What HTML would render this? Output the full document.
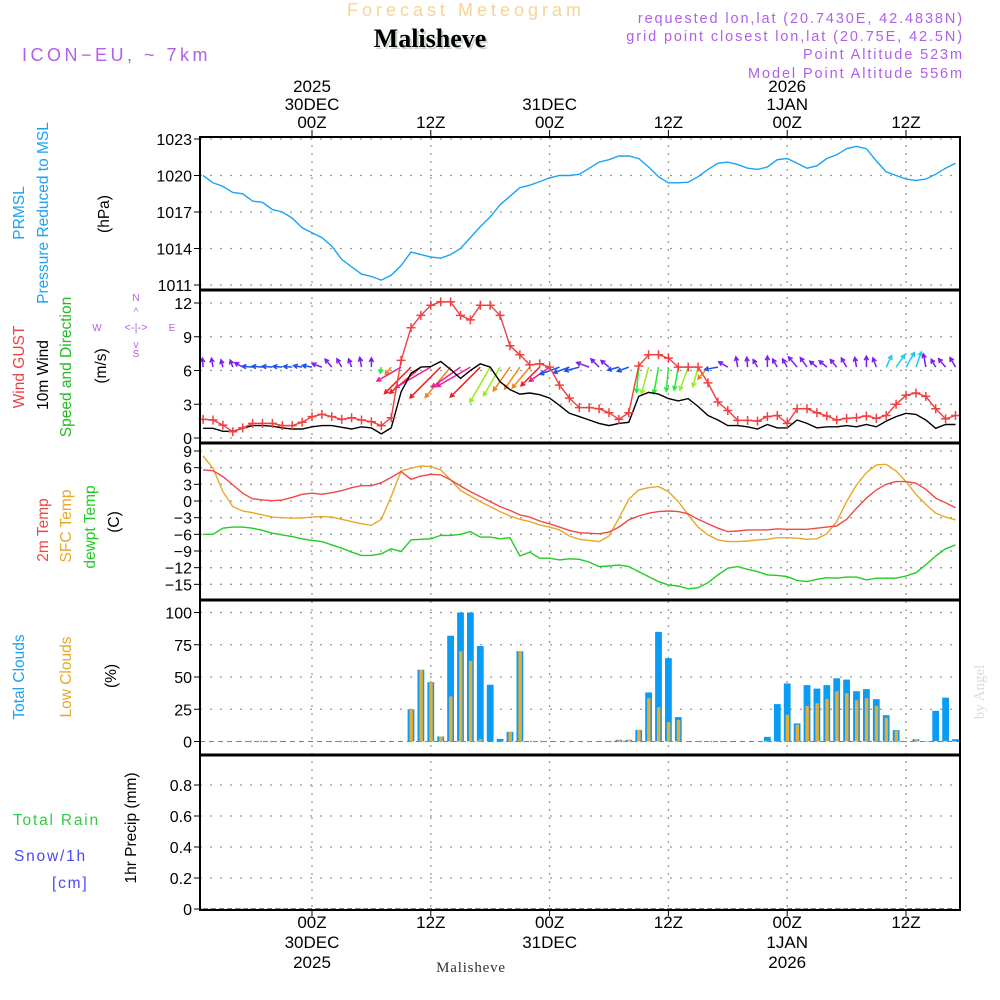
<!DOCTYPE html>
<html><head><meta charset="utf-8"><style>
html,body{margin:0;padding:0;background:#fff;width:1000px;height:1000px;overflow:hidden}
svg{display:block}
.sans{font-family:"Liberation Sans",sans-serif}
.serif{font-family:"Liberation Serif",serif}
</style></head><body>
<svg id="c" class="sans" width="1000" height="1000" xmlns="http://www.w3.org/2000/svg"></svg>
<script>
// ---- data (hourly, hours relative to 30DEC 00Z) ----
const hourStart = -11;
const pressure = [1020.0,1019.4,1019.1,1018.6,1018.5,1017.9,1017.8,1017.2,1017.0,1016.5,1015.7,1015.3,1014.9,1014.2,1013.1,1012.5,1011.9,1011.7,1011.4,1011.8,1012.6,1013.7,1013.5,1013.3,1013.2,1013.5,1014.0,1014.9,1015.8,1016.6,1017.6,1018.3,1019.0,1019.2,1019.5,1019.8,1020.0,1020.0,1020.1,1020.6,1021.1,1021.3,1021.6,1021.6,1021.4,1020.7,1019.9,1019.4,1019.4,1019.45,1019.9,1020.5,1021.0,1021.1,1020.9,1020.6,1020.5,1020.7,1021.3,1021.4,1021.0,1020.6,1020.8,1021.4,1021.7,1022.2,1022.4,1022.2,1021.2,1020.3,1020.0,1019.7,1019.6,1019.7,1020.1,1020.6,1021.0];
const gust = [1.66,1.6,1.15,0.56,0.9,1.3,1.3,1.3,1.1,1.1,1.4,1.9,2.1,1.9,1.66,1.8,1.6,1.45,1.1,1.8,6.9,9.8,10.9,11.8,12.1,12.1,10.9,10.5,11.8,11.8,10.9,8.2,7.4,6.5,6.6,6.3,4.7,3.55,2.7,2.7,2.6,2.25,1.66,2.25,6.4,7.4,7.4,7.1,6.3,6.3,6.3,4.9,3.2,2.45,1.57,1.57,1.5,1.9,2.0,1.3,2.6,2.6,2.25,1.96,1.6,1.75,1.8,1.96,1.75,2.0,3.0,3.8,4.0,3.7,2.6,1.7,2.0];
const wind10 = [0.86,0.86,0.6,0.6,0.86,1.1,1.1,1.05,0.9,0.8,0.8,1.0,1.1,1.1,0.95,0.8,1.0,0.9,0.36,0.9,4.1,5.75,6.3,6.35,6.8,6.1,5.3,6.0,6.6,6.3,5.0,4.3,3.9,4.0,3.85,3.55,2.9,2.2,1.9,1.6,1.3,1.1,1.3,1.4,3.7,4.05,3.9,3.5,3.3,3.5,2.8,2.0,1.6,1.1,1.1,1.0,0.8,1.2,0.9,0.9,1.6,1.3,0.9,1.0,1.0,1.1,1.0,1.2,1.0,1.5,1.9,2.2,2.1,1.6,0.86,1.2,1.2];
const windDir = [175,170,165,160,120,95,95,95,95,95,100,100,110,140,150,160,170,180,10,40,60,45,50,60,45,40,55,60,45,30,30,35,35,40,45,55,70,70,75,110,135,130,75,70,5,15,10,5,10,20,15,40,80,120,170,175,150,180,150,150,140,145,130,130,140,150,170,180,160,205,215,210,200,170,150,140,150];
const t2m = [5.6,5.45,4.4,2.9,1.4,0.4,0.2,0.06,0.2,0.65,1.2,1.4,1.2,1.5,1.85,2.4,2.75,2.75,3.3,4.25,5.3,3.9,4.5,4.8,4.7,3.8,2.7,1.7,0.8,-0.1,-1.0,-1.7,-2.5,-2.9,-3.6,-4.1,-4.7,-5.3,-5.7,-5.8,-5.9,-5.6,-4.7,-3.4,-2.7,-2.2,-1.9,-1.8,-1.9,-2.3,-3.3,-4.1,-4.9,-5.5,-5.4,-5.2,-5.2,-5.2,-5.0,-5.1,-5.1,-5.1,-4.9,-4.7,-4.5,-3.3,-1.3,0.5,2.0,3.0,3.5,3.5,3.2,2.1,0.5,-0.3,-1.2];
const tsfc = [8.1,5.9,1.7,-1.0,-1.8,-2.1,-2.5,-2.9,-3.0,-3.1,-3.05,-2.9,-2.8,-2.9,-3.3,-3.7,-4.1,-4.4,-3.3,0.8,5.4,5.9,6.3,6.2,5.6,3.8,1.9,0.9,-0.1,-1.0,-1.9,-2.7,-3.3,-3.7,-4.3,-4.7,-5.2,-6.3,-6.9,-7.1,-7.3,-6.3,-3.1,0.3,2.0,2.4,2.6,1.7,-0.1,-2.5,-4.7,-6.1,-7.0,-7.3,-7.3,-7.2,-7.0,-6.9,-6.6,-6.6,-6.7,-6.9,-6.8,-5.9,-3.7,-0.1,2.9,5.1,6.5,6.6,5.4,3.5,1.2,-0.6,-2.2,-2.9,-3.4];
const tdew = [-6.0,-6.0,-4.9,-4.7,-4.7,-4.9,-5.3,-5.8,-6.1,-6.4,-6.8,-7.1,-7.3,-7.9,-8.5,-9.2,-9.8,-9.8,-9.5,-8.6,-9.1,-7.0,-6.9,-6.8,-6.2,-6.2,-6.0,-5.5,-6.5,-6.5,-6.8,-6.6,-9.9,-9.2,-10.3,-10.3,-10.6,-10.4,-10.5,-11.0,-11.8,-11.7,-11.5,-11.8,-12.7,-13.6,-14.5,-15.1,-15.3,-15.8,-15.6,-14.7,-13.3,-12.1,-11.8,-12.3,-12.7,-13.3,-13.4,-13.6,-14.3,-14.5,-14.1,-13.8,-13.9,-13.7,-13.7,-14.2,-13.9,-13.9,-13.9,-13.5,-12.9,-11.5,-9.9,-8.6,-7.9];
const totalCloud = [0,0,0,0,0,0,0,0,0,0,0,0,0,0,0,0,0,0,0,0,0,25,55.6,46,3.9,82,100,100,74,44,2,7.5,70,0,0,0,0,0,0,0,0,0,1.3,1.3,9,38,85,64.6,18.9,0,0,0,0,0,0,0,0,3.6,29,45,14,43.7,41,43.7,49,48,39,40.6,32.8,20.4,8.8,0,1.8,0.3,23.8,34,1.8];
const lowCloud = [0,0,0,0,0,0,0,0,0,0,0,0,0,0,0,0,0,0,0,0,0,25,55.6,46,3.9,35,70,62.5,2,0,0,7.5,70,0,0,0,0,0,0,0,0,0,1.3,1.3,9,33.6,26.6,15,16.8,0,0,0,0,0,0,0,0,0.5,0.5,20.7,13,27.6,29.7,33,39,37.5,32,33.6,27.6,18.3,8.3,0,1.8,0.3,0.5,0.5,0];
const precip = [0,0,0,0,0,0,0,0,0,0,0,0,0,0,0,0,0,0,0,0,0,0,0,0,0,0,0,0,0,0,0,0,0,0,0,0,0,0,0,0,0,0,0,0,0,0,0,0,0,0,0,0,0,0,0,0,0,0,0,0,0,0,0,0,0,0,0,0,0,0,0,0,0,0,0,0,0];
const pTicks = [1011,1014,1017,1020,1023];
const wTicks = [0,3,6,9,12];
const tTicks = [-15,-12,-9,-6,-3,0,3,6,9];
const cTicks = [0,25,50,75,100];
const rTicks = [0,0.2,0.4,0.6,0.8];
const timeTicks = [0,12,24,36,48,60];
const timeHourLabels = ["00Z","12Z","00Z","12Z","00Z","12Z"];
const timeDayLabels = ["30DEC","","31DEC","","1JAN",""];
const timeYearLabels = ["2025","","","","2026",""];

// ---- scales ----
const X0=200,X1=960;
const x = h => 312 + h*9.9;
const lin = (d0,d1,r0,r1) => v => r0 + (v-d0)*(r1-r0)/(d1-d0);
const yP = lin(1011,1023,285,139);
const yW = lin(0,12,438,303);
const yT = lin(0,9,501,451);
const yC = lin(0,100,741.5,612.5);
const yR = lin(0,0.8,909,785);

const svg=document.getElementById('c');
const NS="http://www.w3.org/2000/svg";
function el(tag,attrs,parent){const e=document.createElementNS(NS,tag);for(const k in attrs)e.setAttribute(k,attrs[k]);(parent||svg).appendChild(e);return e;}
function txt(s,xx,yy,attrs,parent){const e=el('text',Object.assign({x:xx,y:yy},attrs),parent);e.textContent=s;return e;}

// grid
const grid=el('g',{});


timeTicks.forEach(h=>{el('line',{x1:x(h),x2:x(h),y1:137,y2:910,stroke:'#999','stroke-width':1.3,'stroke-dasharray':'2,6'},grid);});
function hgrid(ticks,sc){ticks.forEach(t=>el('line',{x1:X0,x2:X1,y1:sc(t),y2:sc(t),stroke:'#999','stroke-width':1.3,'stroke-dasharray':'2,8'},grid));}
hgrid(pTicks,yP);hgrid(wTicks,yW);hgrid(tTicks,yT);hgrid(cTicks,yC);hgrid(rTicks,yR);

// tick labels
function yTicks(ticks,sc,name){const g=el('g',{});


ticks.forEach(t=>{const yy=sc(t);el('line',{x1:X0-6,x2:X0,y1:yy,y2:yy,stroke:'#000','stroke-width':1},g);
txt(String(t).replace('-','\u2212'),192,yy+6,{'font-size':16,'text-anchor':'end',fill:'#000'},g);});}
yTicks(pTicks,yP,'pressure-y-ticks');yTicks(wTicks,yW,'wind-y-ticks');yTicks(tTicks,yT,'temp-y-ticks');yTicks(cTicks,yC,'cloud-y-ticks');yTicks(rTicks,yR,'precip-y-ticks');

// time labels
const tl=el('g',{'text-anchor':'middle','font-size':17,fill:'#000'});


timeTicks.forEach((h,i)=>{const xx=x(h);
txt(timeHourLabels[i],xx,128,{},tl);txt(timeDayLabels[i],xx,110,{},tl);txt(timeYearLabels[i],xx,92,{},tl);
txt(timeHourLabels[i],xx,928,{},tl);txt(timeDayLabels[i],xx,948,{},tl);txt(timeYearLabels[i],xx,968,{},tl);
el('line',{x1:xx,x2:xx,y1:130,y2:137,stroke:'#000'},tl);el('line',{x1:xx,x2:xx,y1:910,y2:916,stroke:'#000'},tl);});

function series(vals,sc,color,name,w){const d=vals.map((v,i)=>(i?'L':'M')+x(hourStart+i).toFixed(1)+','+sc(v).toFixed(1)).join('');
const p=el('path',{d:d,fill:'none',stroke:color,'stroke-width':w||1.4});


return p;}

series(pressure,yP,'#1aa3f5','pressure-line');

// wind arrows
const wa=el('g',{});


function hueFor(d){if(d>195)return 190; if(d>100)return 268; if(d>=65)return 225; if(d<=10)return 125; if(d<=30)return 85; return (d<=40?30:(d<=50?0:325));}
windDir.forEach((d,i)=>{const sp=wind10[i];const len=4+sp*5.8;const a=(d+180)*Math.PI/180;
const x1=x(hourStart+i),y1=yW(6.3);const dx=Math.sin(a)*len,dy=-Math.cos(a)*len;
const x2=x1+dx,y2=y1+dy;const col='hsl('+hueFor(d)+',85%,52%)';
const ang=Math.atan2(dy,dx);const hl=4.5;
const ar=el('path',{d:`M${x1},${y1}L${x2},${y2}M${x2-hl*Math.cos(ang-0.5)},${y2-hl*Math.sin(ang-0.5)}L${x2},${y2}L${x2-hl*Math.cos(ang+0.5)},${y2-hl*Math.sin(ang+0.5)}`,stroke:col,fill:'none','stroke-width':1.5},wa);

});

series(wind10,yW,'#000','wind10-line');
series(gust,yW,'#f04040','gust-line');
const gm=el('g',{stroke:'#f04040','stroke-width':1.5});


gust.forEach((v,i)=>{const xx=x(hourStart+i),yy=yW(v);el('path',{d:`M${xx-4.5},${yy}h9M${xx},${yy-4.5}v9`},gm);});

series(tdew,yT,'#22cc22','dewpoint-line');
series(tsfc,yT,'#e8a828','sfc-temp-line');
series(t2m,yT,'#f04848','t2m-line');

// clouds
const cb=el('g',{});


el('line',{x1:X0,x2:X1,y1:yC(0),y2:yC(0),stroke:'#1aa3f5','stroke-dasharray':'5,4','stroke-width':1},cb);
totalCloud.forEach((v,i)=>{if(v<=0)return;const xx=x(hourStart+i);
const b=el('rect',{x:xx-3.4,y:yC(v),width:6.8,height:yC(0)-yC(v),fill:'#0a9cf5'},cb);


const lv=lowCloud[i];if(lv>0){const o=el('rect',{x:xx-1.5,y:yC(lv),width:3.4,height:yC(0)-yC(lv),fill:'#e8ac30'},cb);

}});

const pr=el('path',{d:precip.map((v,i)=>(i?'L':'M')+x(hourStart+i)+','+yR(v)).join(''),stroke:'#000','stroke-dasharray':'5,3',fill:'none','stroke-width':1});



const fr=el('g',{fill:'none',stroke:'#000'});


el('rect',{x:X0,y:137,width:X1-X0,height:773,'stroke-width':2},fr);
[290,443,600,755].forEach(yy=>el('line',{x1:X0-1,x2:X1+1,y1:yy,y2:yy,'stroke-width':3},fr));
</script>
<svg class="sans" width="1000" height="1000" style="position:absolute;left:0;top:0" xmlns="http://www.w3.org/2000/svg">
<text x="466" y="16" font-size="18" fill="#f5d39a" text-anchor="middle" letter-spacing="4">Forecast Meteogram</text>
<text class="serif" x="432" y="49" font-size="26" font-weight="bold" fill="#c8d8c8" text-anchor="middle">Malisheve</text>
<text class="serif" x="430" y="47" font-size="26" font-weight="bold" fill="#000" text-anchor="middle">Malisheve</text>
<text x="22" y="61" font-size="18" fill="#b060e8" letter-spacing="3.5">ICON−EU, ~ 7km</text>
<g fill="#b060e8" font-size="14.5" text-anchor="end" letter-spacing="1.9">
<text x="964" y="23">requested lon,lat (20.7430E, 42.4838N)</text>
<text x="964" y="41">grid point closest lon,lat (20.75E, 42.5N)</text>
<text x="964" y="59">Point Altitude 523m</text>
<text x="964" y="78">Model Point Altitude 556m</text>
</g>
<g font-size="15.5">
<text transform="translate(24,213) rotate(-90)" text-anchor="middle" fill="#1aa3f5">PRMSL</text>
<text transform="translate(48,213) rotate(-90)" text-anchor="middle" fill="#1aa3f5">Pressure  Reduced to MSL</text>
<text transform="translate(109,214) rotate(-90)" text-anchor="middle" fill="#000">(hPa)</text>
<text transform="translate(24,367) rotate(-90)" text-anchor="middle" fill="#f04040">Wind GUST</text>
<text transform="translate(48,375) rotate(-90)" text-anchor="middle" fill="#000">10m Wind</text>
<text transform="translate(71,367) rotate(-90)" text-anchor="middle" fill="#22bb22">Speed and Direction</text>
<text transform="translate(106,366) rotate(-90)" text-anchor="middle" fill="#000">(m/s)</text>
<text transform="translate(48,530) rotate(-90)" text-anchor="middle" fill="#f04848">2m Temp</text>
<text transform="translate(71,526) rotate(-90)" text-anchor="middle" fill="#e8a828">SFC Temp</text>
<text transform="translate(95,527) rotate(-90)" text-anchor="middle" fill="#22cc22">dewpt Temp</text>
<text transform="translate(119,522) rotate(-90)" text-anchor="middle" fill="#000">(C)</text>
<text transform="translate(24,677) rotate(-90)" text-anchor="middle" fill="#1aa3f5">Total Clouds</text>
<text transform="translate(71,677) rotate(-90)" text-anchor="middle" fill="#e8a828">Low Clouds</text>
<text transform="translate(116,676) rotate(-90)" text-anchor="middle" fill="#000">(%)</text>
<text transform="translate(136,828) rotate(-90)" text-anchor="middle" fill="#000">1hr Precip (mm)</text>
</g>
<text x="13" y="825" font-size="15.5" fill="#33cc44" letter-spacing="1.8">Total   Rain</text>
<text x="14" y="861" font-size="15.5" fill="#4a4af0" letter-spacing="1.8">Snow/1h</text>
<text x="52" y="888" font-size="15.5" fill="#4a4af0" letter-spacing="1.8">[cm]</text>
<g fill="#b060e8" font-size="10" text-anchor="middle">
<text x="97" y="331">W</text><text x="172" y="331">E</text>
<text x="136" y="301">N</text><text x="136" y="357">S</text>
<text x="136" y="331" font-size="11">&lt;-|-&gt;</text>
<text x="136" y="315">^</text><text x="136" y="348">v</text>
</g>
<text class="serif" x="471" y="972" font-size="15" fill="#333" text-anchor="middle" letter-spacing="0.8">Malisheve</text>
<text class="serif" transform="translate(984,692) rotate(-90)" font-size="15" fill="#d8ddd8" text-anchor="middle">by Angel</text>
</svg>
</body></html>
